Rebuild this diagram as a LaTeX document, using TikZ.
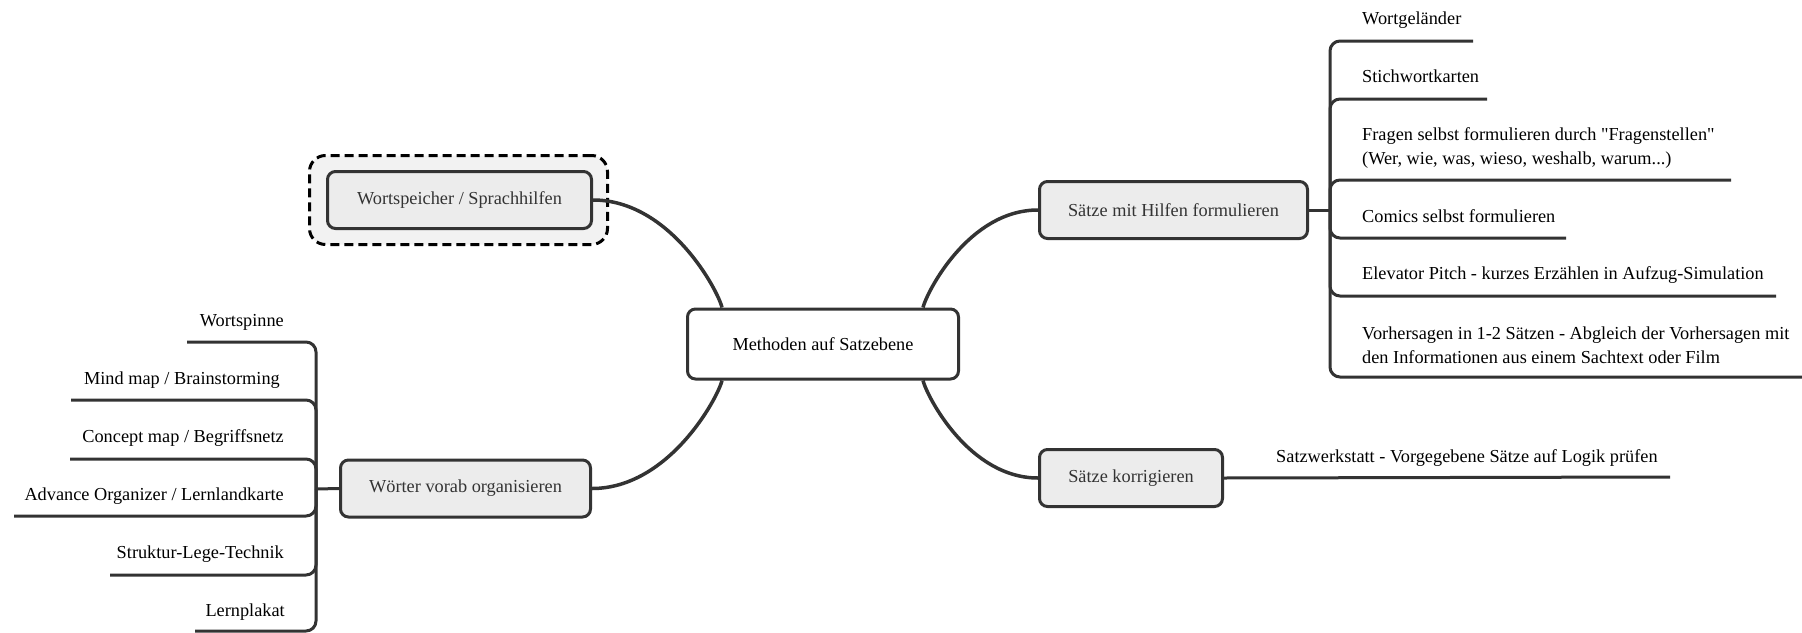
\documentclass[tikz,border=0pt]{standalone}
\usepackage{fontspec}
\setmainfont{Liberation Serif}
\usetikzlibrary{calc}
\definecolor{ln}{HTML}{333333}
\definecolor{bx}{HTML}{ECECEC}
\definecolor{dbx}{HTML}{F2F2F2}
\newcommand\straightdq{\XeTeXglyph\XeTeXcharglyph"22\relax}
\begin{document}
\begin{tikzpicture}[x=1pt,y=-1pt,
  font=\fontsize{18.3}{24}\selectfont,
  mainbox/.style={draw=ln, line width=3pt, rounded corners=8pt, fill=white, minimum width=271pt, minimum height=70pt, text=black, inner sep=0pt},
  topicbox/.style={draw=ln, line width=3pt, rounded corners=8pt, fill=bx, minimum height=57pt, text=ln, inner sep=0pt},
  dashedbox/.style={draw=black, dash pattern=on 9pt off 5pt, line width=3pt, rounded corners=16pt, fill=dbx, inner sep=0pt},
  conn/.style={draw=ln, line width=3.5pt},
  stub/.style={draw=ln, line width=3pt},
  brk/.style={draw=ln, line width=3pt, rounded corners=10pt},
  leafR/.style={anchor=base west, inner sep=0pt, align=left, text=black},
  leafL/.style={anchor=base east, inner sep=0pt, align=right, text=black}]
\useasboundingbox (0,0) rectangle (1802,632);

% central and topic nodes
\node[mainbox] (c) at (823,344) {Methoden auf Satzebene};
\node[dashedbox, minimum width=298pt, minimum height=89pt] (wd) at (458.5,200) {};
\node[topicbox, minimum width=264pt] (w) at (459.5,200) {Wortspeicher / Sprachhilfen};
\node[topicbox, minimum width=268pt] (s1) at (1173.5,210) {Sätze mit Hilfen formulieren};
\node[topicbox, minimum width=183pt] (s2) at (1131,478) {Sätze korrigieren};
\node[topicbox, minimum width=250pt] (s3) at (465.5,488.5) {Wörter vorab organisieren};

% main connectors
\draw[conn] (w.east) .. controls +(77,0) and +(-4,-17) .. ($(c.north west)+(36,0)$);
\draw[conn] ($(c.north east)+(-37,0)$) .. controls +(4,-16) and +(-69,0) .. (s1.west);
\draw[conn] ($(c.south west)+(36,0)$) .. controls +(-4,17) and +(77,0) .. (s3.east);
\draw[conn] ($(c.south east)+(-37,0)$) .. controls +(4,16) and +(-69,0) .. (s2.west);

% right bracket (Saetze mit Hilfen)
\coordinate (rb) at (1330,210);
\draw[stub] (s1.east) -- (rb);
\coordinate (u1) at (1473,41);
\coordinate (u2) at (1487,99);
\coordinate (u3) at (1731,180);
\coordinate (u4) at (1566,238);
\coordinate (u5) at (1776,296);
\coordinate (u6) at (1803,377);
\foreach \u in {u1,u2,u3,u4,u5,u6} \draw[brk] (rb) |- (\u);
\node[leafR] (r1) at (1362,24) {Wortgeländer};
\node[leafR] (r2) at (1362,82) {Stichwortkarten};
\node[leafR] (r3) at (1362,164) {Fragen selbst formulieren durch \straightdq Fragenstellen\straightdq\\(Wer, wie, was, wieso, weshalb, warum...)};
\node[leafR] (r4) at (1362,222) {Comics selbst formulieren};
\node[leafR] (r5) at (1362,279) {Elevator Pitch - kurzes Erzählen in Aufzug-Simulation};
\node[leafR] (r6) at (1362,363) {Vorhersagen in 1-2 Sätzen - Abgleich der Vorhersagen mit\\den Informationen aus einem Sachtext oder Film};

% left bracket (Woerter vorab organisieren)
\coordinate (lb) at (316,489);
\draw[stub] (s3.west) -- (lb);
\coordinate (v1) at (187,342);
\coordinate (v2) at (71,400);
\coordinate (v3) at (70,459);
\coordinate (v4) at (14,516);
\coordinate (v5) at (110,575);
\coordinate (v6) at (195,631);
\foreach \v in {v1,v2,v3,v4,v5,v6} \draw[brk] (lb) |- (\v);
\node[leafL] (l1) at (284,326) {Wortspinne};
\node[leafL] (l2) at (280,384) {Mind map / Brainstorming};
\node[leafL] (l3) at (284,442) {Concept map / Begriffsnetz};
\node[leafL] (l4) at (284,500) {Advance Organizer / Lernlandkarte};
\node[leafL] (l5) at (284,558) {Struktur-Lege-Technik};
\node[leafL] (l6) at (285,616) {Lernplakat};

% Saetze korrigieren child
\coordinate (u7) at (1670,477);
\draw[stub] (s2.east) -- (u7);
\node[leafR] (k1) at (1276,462) {Satzwerkstatt - Vorgegebene Sätze auf Logik prüfen};
\end{tikzpicture}
\end{document}
